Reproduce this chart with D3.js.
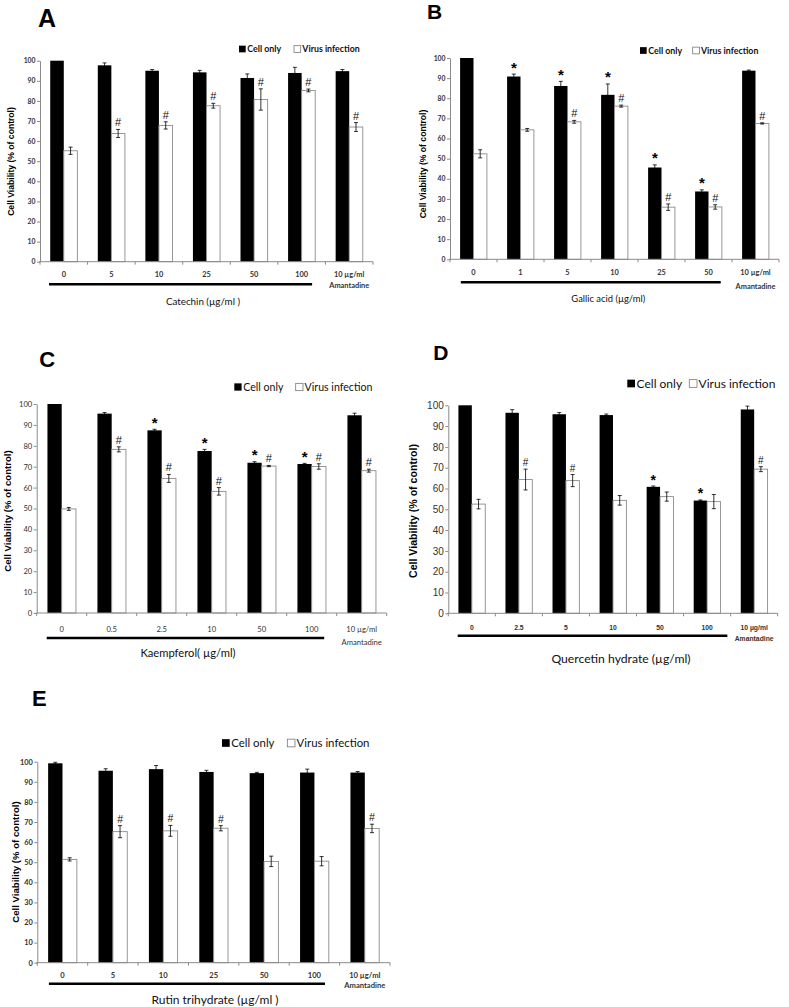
<!DOCTYPE html>
<html>
<head>
<meta charset="utf-8">
<script src="https://cdn.jsdelivr.net/npm/d3@7"></script>
<style>
  body { margin: 0; background: #fff; }
  svg { display: block; }
</style>
</head>
<body>
<svg id="chart" width="789" height="1007"></svg>
<script>
// ---- Data ----
const seriesNames = ['Cell only', 'Virus infection'];
const amantadineLabel = 'Amantadine';

// A - Catechin
const catA = ['0', '5', '10', '25', '50', '100', '10 µg/ml'];
const cellA = [100, 97.7, 95.0, 94.2, 91.4, 93.9, 94.8];
const cellErrA = [0, 1.2, 0.6, 1.0, 2.0, 2.8, 0.8];
const virusA = [55.2, 63.8, 67.8, 77.6, 80.7, 85.2, 67.0];
const virusErrA = [1.8, 2.0, 1.8, 1.2, 5.3, 0.7, 2.2];
const starA = [];
const hashA = [1, 2, 3, 4, 5, 6];

// B - Gallic acid
const catB = ['0', '1', '5', '10', '25', '50', '10 µg/ml'];
const cellB = [100, 90.8, 86.1, 81.7, 45.6, 33.7, 93.7];
const cellErrB = [0, 1.2, 2.3, 5.4, 1.3, 0.8, 0.3];
const virusB = [52.4, 64.3, 68.3, 76.1, 25.9, 26.0, 67.5];
const virusErrB = [2.0, 0.7, 0.7, 0.5, 1.6, 1.1, 0.3];
const starB = [1, 2, 3, 4, 5];
const hashB = [2, 3, 4, 5, 6];

// C - Kaempferol
const catC = ['0', '0.5', '2.5', '10', '50', '100', '10 µg/ml'];
const cellC = [100, 95.4, 87.4, 77.5, 71.9, 71.3, 94.6];
const cellErrC = [0, 0.5, 0.5, 0.8, 0.5, 0.3, 1.0];
const virusC = [49.8, 78.3, 64.4, 58.2, 70.3, 70.1, 68.1];
const virusErrC = [0.7, 1.2, 1.9, 1.8, 0.3, 1.3, 0.7];
const starC = [2, 3, 4, 5];
const hashC = [1, 2, 3, 4, 5, 6];

// D - Quercetin hydrate
const catD = ['0', '2.5', '5', '10', '50', '100', '10 µg/ml'];
const cellD = [100, 96.4, 95.7, 95.3, 60.8, 54.2, 98.0];
const cellErrD = [0, 1.5, 0.8, 0.5, 0.4, 0.3, 1.6];
const virusD = [52.5, 64.3, 63.8, 54.3, 56.1, 53.7, 69.3];
const virusErrD = [2.3, 5.0, 2.9, 2.3, 2.2, 3.4, 1.2];
const starD = [4, 5];
const hashD = [1, 2, 6];

// E - Rutin trihydrate
const catE = ['0', '5', '10', '25', '50', '100', '10 µg/ml'];
const cellE = [99.2, 95.5, 96.3, 94.9, 94.3, 94.6, 94.6];
const cellErrE = [0.5, 1.0, 1.8, 0.8, 0.4, 1.7, 0.5];
const virusE = [51.4, 65.2, 65.6, 66.9, 50.4, 50.5, 66.8];
const virusErrE = [0.8, 3.0, 2.7, 1.3, 2.6, 2.3, 2.1];
const starE = [];
const hashE = [1, 2, 3, 6];

const yTicks = [0, 10, 20, 30, 40, 50, 60, 70, 80, 90, 100];

// ---- Fonts ----
const calibri = 'Lato, "Open Sans", sans-serif';
const arial = '"Liberation Sans", Arial, sans-serif';

// ---- Panel layouts ----
const panels = [
  {
    letter: 'A', cats: catA, cell: cellA, cellErr: cellErrA, virus: virusA, virusErr: virusErrA,
    star: starA, hash: hashA, xTitle: 'Catechin (µg/ml )',
    left: 40, right: 373, yTop: 60.7, yBottom: 261.7,
    letterPos: [38, 27, 25],
    legend: { y: 49, sq: [239, 294], sqSize: 6.7, font: 8.8, weight: 'bold' },
    yTickFont: { family: calibri, size: 6.8, weight: 'bold' },
    xTickFont: { family: calibri, size: 7.4, weight: 'bold' },
    tickY: 274.3, amanY: 285.2, underline: [284.3, 0.19, 5.72],
    title: { x: 203, y: 301.7, size: 9.8 },
    yTitle: { x: 11, y: 161.5, size: 8.6 },
    hashSize: 11, starSize: 14
  },
  {
    letter: 'B', cats: catB, cell: cellB, cellErr: cellErrB, virus: virusB, virusErr: virusErrB,
    star: starB, hash: hashB, xTitle: 'Gallic acid (µg/ml)',
    left: 450, right: 779, yTop: 58, yBottom: 259.3,
    letterPos: [427, 19, 21],
    legend: { y: 50.5, sq: [640, 692.7], sqSize: 6.7, font: 8.8, weight: 'bold' },
    yTickFont: { family: calibri, size: 6.8, weight: 'bold' },
    xTickFont: { family: calibri, size: 7.4, weight: 'bold' },
    tickY: 272.7, amanY: 286, underline: [282.3, 0.23, 5.76],
    title: { x: 608.3, y: 298.3, size: 9.4 },
    yTitle: { x: 422.5, y: 164, size: 8.6 },
    hashSize: 11, starSize: 15
  },
  {
    letter: 'C', cats: catC, cell: cellC, cellErr: cellErrC, virus: virusC, virusErr: virusErrC,
    star: starC, hash: hashC, xTitle: 'Kaempferol( µg/ml)',
    left: 36.7, right: 386.7, yTop: 404, yBottom: 613,
    letterPos: [39.3, 366.7, 22],
    legend: { y: 387, sq: [234.3, 295.7], sqSize: 7.3, font: 10.6, weight: 'normal' },
    yTickFont: { family: calibri, size: 7.6, weight: 'normal' },
    xTickFont: { family: calibri, size: 7.6, weight: 'normal' },
    tickY: 629.3, amanY: 642.7, underline: [638, 0.2, 5.75],
    title: { x: 188, y: 653.3, size: 11.2 },
    yTitle: { x: 8, y: 511, size: 9.6 },
    hashSize: 11, starSize: 15
  },
  {
    letter: 'D', cats: catD, cell: cellD, cellErr: cellErrD, virus: virusD, virusErr: virusErrD,
    star: starD, hash: hashD, xTitle: 'Quercetin hydrate (µg/ml)',
    left: 448.3, right: 777.7, yTop: 405.3, yBottom: 613.3,
    letterPos: [433.3, 360, 21],
    legend: { y: 383.5, sq: [627.3, 689.3], sqSize: 7.7, font: 12, weight: 'normal' },
    yTickFont: { family: arial, size: 10, weight: 'normal' },
    xTickFont: { family: arial, size: 6.8, weight: 'bold' },
    tickY: 627.7, amanY: 639, underline: [635.7, 0.2, 5.93],
    title: { x: 621, y: 658.3, size: 12.2 },
    yTitle: { x: 413.5, y: 511, size: 10.6 },
    hashSize: 10, starSize: 14
  },
  {
    letter: 'E', cats: catE, cell: cellE, cellErr: cellErrE, virus: virusE, virusErr: virusErrE,
    star: starE, hash: hashE, xTitle: 'Rutin trihydrate (µg/ml )',
    left: 37.3, right: 390, yTop: 761.7, yBottom: 962.7,
    letterPos: [32, 706, 22],
    legend: { y: 743, sq: [222, 287.3], sqSize: 7.7, font: 11.4, weight: 'normal' },
    yTickFont: { family: calibri, size: 7.4, weight: 'bold' },
    xTickFont: { family: calibri, size: 7.6, weight: 'bold' },
    tickY: 975, amanY: 985.5, underline: [983.7, 0.23, 5.71],
    title: { x: 215, y: 999.5, size: 12 },
    yTitle: { x: 16, y: 862, size: 9.6 },
    hashSize: 10.5, starSize: 14
  }
];

const svg = d3.select('#chart');
const axisGray = '#8a8a8a';

function drawPanel(p) {
  const g = svg.append('g').attr('class', 'panel-' + p.letter);

  const x0 = d3.scaleBand().domain(p.cats).range([p.left, p.right]);
  const x1 = d3.scaleBand().domain(seriesNames)
      .range([0, x0.bandwidth()])
      .paddingOuter(0.754);
  const y = d3.scaleLinear().domain([0, 100]).range([p.yBottom, p.yTop]);

  const rows = p.cats.map((c, i) => ({
    cat: c, i,
    cell: p.cell[i], cellErr: p.cellErr[i],
    virus: p.virus[i], virusErr: p.virusErr[i]
  }));

  // Panel letter
  g.append('text')
      .attr('x', p.letterPos[0]).attr('y', p.letterPos[1])
      .attr('font-family', arial).attr('font-weight', 'bold')
      .attr('font-size', p.letterPos[2])
      .text(p.letter);

  // Y axis
  const yAxis = d3.axisLeft(y).tickValues(yTicks).tickSize(3).tickSizeOuter(0).tickPadding(1.5);
  const ya = g.append('g').attr('transform', `translate(${p.left},0)`).call(yAxis);
  ya.select('.domain').attr('stroke', axisGray);
  ya.selectAll('.tick line').attr('stroke', axisGray);
  ya.selectAll('.tick text')
      .attr('fill', '#333')
      .attr('font-family', p.yTickFont.family)
      .attr('font-size', p.yTickFont.size)
      .attr('font-weight', p.yTickFont.weight);

  // Bars
  g.selectAll('rect.cell').data(rows).join('rect')
      .attr('class', 'cell')
      .attr('x', d => x0(d.cat) + x1('Cell only'))
      .attr('width', x1.bandwidth())
      .attr('y', d => y(d.cell))
      .attr('height', d => y(0) - y(d.cell))
      .attr('fill', '#000');

  g.selectAll('rect.virus').data(rows).join('rect')
      .attr('class', 'virus')
      .attr('x', d => x0(d.cat) + x1('Virus infection'))
      .attr('width', x1.bandwidth())
      .attr('y', d => y(d.virus))
      .attr('height', d => y(0) - y(d.virus))
      .attr('fill', '#fff')
      .attr('stroke', '#8c8c8c')
      .attr('stroke-width', 0.9);

  // X axis line with ticks between categories
  g.append('line')
      .attr('x1', p.left - 1).attr('x2', p.right)
      .attr('y1', y(0)).attr('y2', y(0))
      .attr('stroke', axisGray).attr('stroke-width', 1);
  const bounds = p.cats.map(c => x0(c)).concat([x0.range()[1]]);
  g.selectAll('line.xtick').data(bounds).join('line')
      .attr('class', 'xtick')
      .attr('x1', d => d).attr('x2', d => d)
      .attr('y1', y(0)).attr('y2', y(0) + 3)
      .attr('stroke', axisGray);

  // Error bars
  const errs = [];
  rows.forEach(d => {
    if (d.cellErr > 0) errs.push({ cx: x0(d.cat) + x1('Cell only') + x1.bandwidth() / 2, v: d.cell, e: d.cellErr });
    if (d.virusErr > 0) errs.push({ cx: x0(d.cat) + x1('Virus infection') + x1.bandwidth() / 2, v: d.virus, e: d.virusErr });
  });
  const eb = g.selectAll('g.err').data(errs).join('g').attr('class', 'err')
      .attr('stroke', '#000').attr('stroke-width', 0.8);
  eb.append('line')
      .attr('x1', d => d.cx).attr('x2', d => d.cx)
      .attr('y1', d => y(d.v - d.e)).attr('y2', d => y(d.v + d.e));
  eb.append('line')
      .attr('x1', d => d.cx - 2).attr('x2', d => d.cx + 2)
      .attr('y1', d => y(d.v + d.e)).attr('y2', d => y(d.v + d.e));
  eb.append('line')
      .attr('x1', d => d.cx - 2).attr('x2', d => d.cx + 2)
      .attr('y1', d => y(d.v - d.e)).attr('y2', d => y(d.v - d.e));

  // Significance marks
  g.selectAll('text.star').data(p.star.map(i => rows[i])).join('text')
      .attr('class', 'star')
      .attr('x', d => x0(d.cat) + x1('Cell only') + x1.bandwidth() / 2)
      .attr('y', d => y(d.cell + d.cellErr) - 1.5)
      .attr('text-anchor', 'middle')
      .attr('font-family', arial).attr('font-weight', 'bold')
      .attr('font-size', p.starSize)
      .text('*');

  g.selectAll('text.hash').data(p.hash.map(i => rows[i])).join('text')
      .attr('class', 'hash')
      .attr('x', d => x0(d.cat) + x1('Virus infection') + x1.bandwidth() / 2)
      .attr('y', d => y(d.virus + d.virusErr) - 3)
      .attr('text-anchor', 'middle')
      .attr('font-family', arial)
      .attr('font-size', p.hashSize)
      .attr('fill', '#111')
      .text('#');

  // Category labels
  g.selectAll('text.cat').data(rows).join('text')
      .attr('class', 'cat')
      .attr('x', d => x0(d.cat) + x0.bandwidth() / 2)
      .attr('y', p.tickY)
      .attr('dy', '0.35em')
      .attr('text-anchor', 'middle')
      .attr('fill', '#333')
      .attr('font-family', p.xTickFont.family)
      .attr('font-size', p.xTickFont.size)
      .attr('font-weight', p.xTickFont.weight)
      .text(d => d.cat);

  const last = p.cats[p.cats.length - 1];
  g.append('text')
      .attr('x', x0(last) + x0.bandwidth() / 2)
      .attr('y', p.amanY)
      .attr('dy', '0.35em')
      .attr('text-anchor', 'middle')
      .attr('fill', '#333')
      .attr('font-family', p.xTickFont.family)
      .attr('font-size', p.xTickFont.size)
      .attr('font-weight', p.xTickFont.weight)
      .text(amantadineLabel);

  // Concentration underline
  const bw = x0.bandwidth();
  g.append('line')
      .attr('x1', p.left + p.underline[1] * bw)
      .attr('x2', p.left + p.underline[2] * bw)
      .attr('y1', p.underline[0]).attr('y2', p.underline[0])
      .attr('stroke', '#000').attr('stroke-width', 2.4);

  // X title
  g.append('text')
      .attr('x', p.title.x).attr('y', p.title.y)
      .attr('dy', '0.35em')
      .attr('text-anchor', 'middle')
      .attr('font-family', calibri)
      .attr('font-size', p.title.size)
      .attr('fill', '#111')
      .text(p.xTitle);

  // Y title
  g.append('text')
      .attr('transform', `translate(${p.yTitle.x},${p.yTitle.y}) rotate(-90)`)
      .attr('dy', '0.35em')
      .attr('text-anchor', 'middle')
      .attr('font-family', arial).attr('font-weight', 'bold')
      .attr('font-size', p.yTitle.size)
      .text('Cell Viability (% of control)');

  // Legend
  const lg = g.append('g');
  seriesNames.forEach((name, k) => {
    const sx = p.legend.sq[k];
    const s = p.legend.sqSize;
    lg.append('rect')
        .attr('x', sx).attr('y', p.legend.y - s / 2)
        .attr('width', s).attr('height', s)
        .attr('fill', k === 0 ? '#000' : '#fff')
        .attr('stroke', k === 0 ? 'none' : '#777')
        .attr('stroke-width', 0.8);
    lg.append('text')
        .attr('x', sx + s + 1.6).attr('y', p.legend.y)
        .attr('dy', '0.35em')
        .attr('font-family', calibri)
        .attr('font-size', p.legend.font)
        .attr('font-weight', p.legend.weight)
        .attr('fill', '#111')
        .text(name);
  });
}

panels.forEach(drawPanel);
</script>
</body>
</html>
